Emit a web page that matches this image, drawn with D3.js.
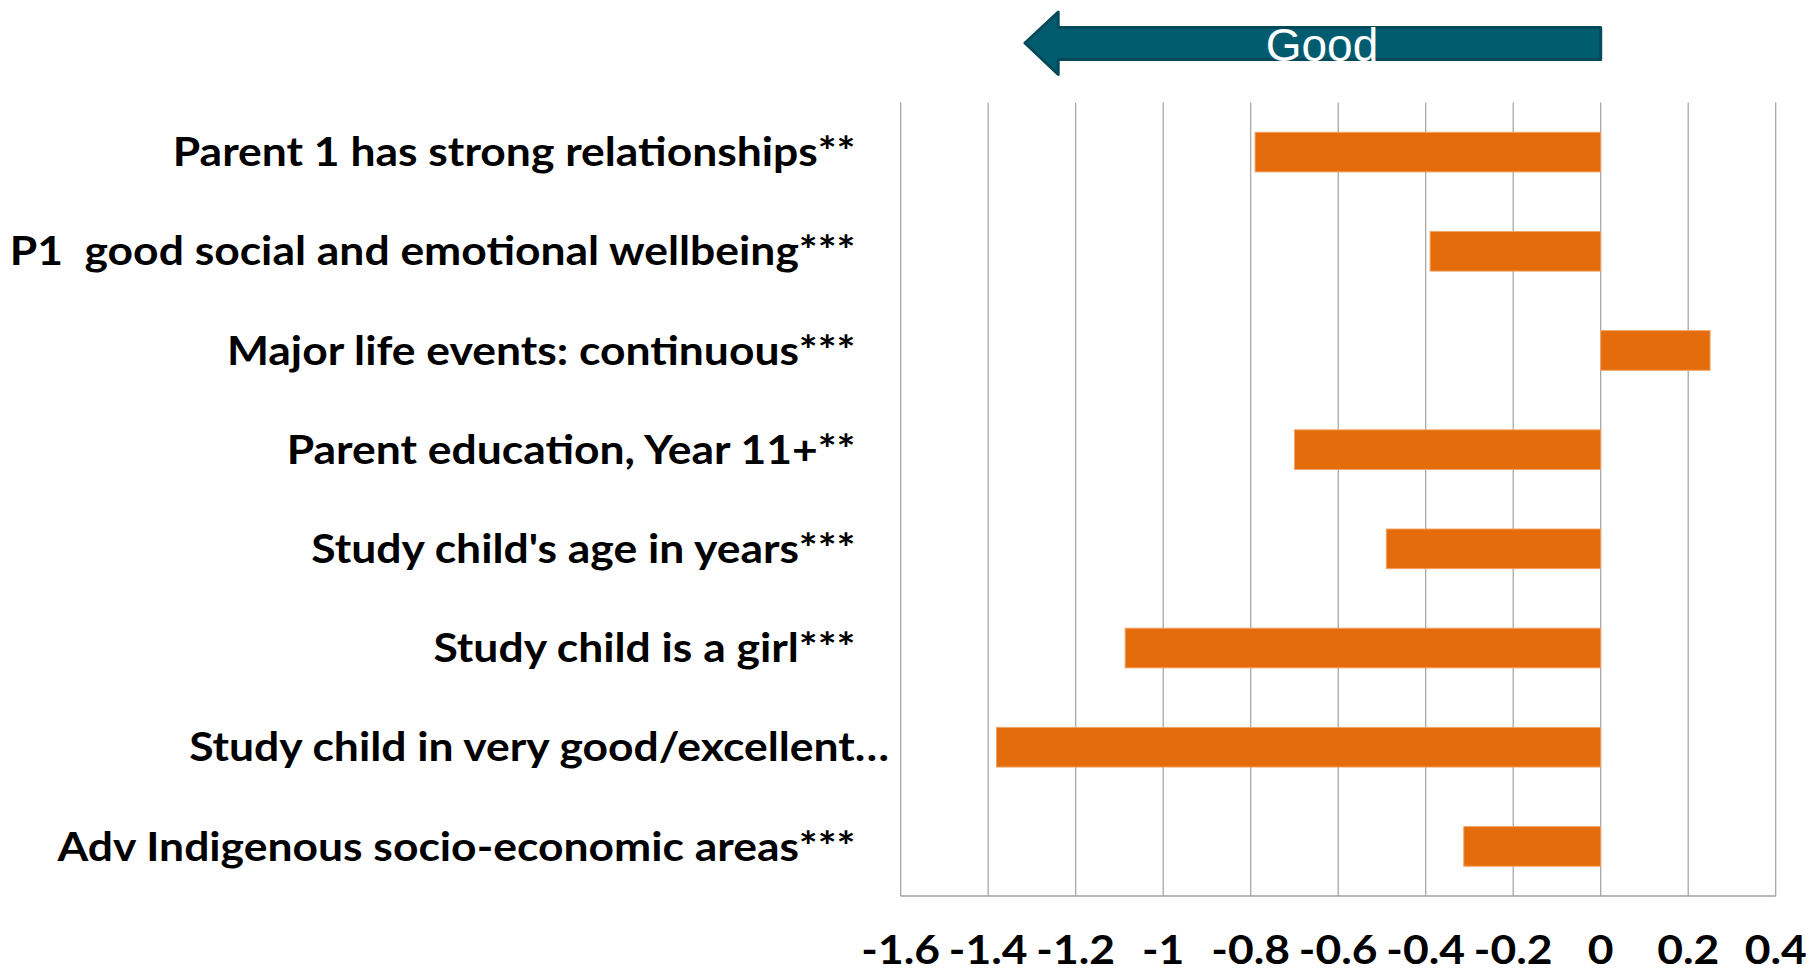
<!DOCTYPE html>
<html>
<head>
<meta charset="utf-8">
<script src="https://cdn.jsdelivr.net/npm/d3@7"></script>
<style>
  html, body { margin: 0; padding: 0; background: #ffffff; }
  svg { display: block; }
</style>
</head>
<body>
<svg id="chart" width="1810" height="973"></svg>
<script>
// Factors and their estimated coefficients (negative = toward "Good")
const categories = [
  "Parent 1 has strong relationships**",
  "P1  good social and emotional wellbeing***",
  "Major life events: continuous***",
  "Parent education, Year 11+**",
  "Study child's age in years***",
  "Study child is a girl***",
  "Study child in very good/excellent\u2026",
  "Adv Indigenous socio-economic areas***"
];
const values = [-0.79, -0.39, 0.25, -0.70, -0.49, -1.087, -1.381, -0.313];
const tickValues = [-1.6, -1.4, -1.2, -1, -0.8, -0.6, -0.4, -0.2, 0, 0.2, 0.4];
const tickLabels = ["-1.6", "-1.4", "-1.2", "-1", "-0.8", "-0.6", "-0.4", "-0.2", "0", "0.2", "0.4"];
const arrowLabel = "Good";

const svg = d3.select("#chart");
const labelFont = "Lato, 'Noto Sans', sans-serif";

const x = d3.scaleLinear().domain([-1.6, 0.4]).range([900.7, 1775.7]);
const y = d3.scaleBand().domain(categories).range([102.5, 896])
  .paddingInner(0.6).paddingOuter(0.3);

// vertical gridlines
svg.append("g").selectAll("line").data(tickValues).join("line")
  .attr("x1", d => x(d)).attr("x2", d => x(d))
  .attr("y1", y.range()[0]).attr("y2", y.range()[1])
  .attr("stroke", "#a0a0a0").attr("stroke-width", 1.2);

// baseline of the value axis
svg.append("line")
  .attr("x1", x.range()[0]).attr("x2", x.range()[1])
  .attr("y1", y.range()[1]).attr("y2", y.range()[1])
  .attr("stroke", "#a0a0a0").attr("stroke-width", 1.5);

// bars
svg.append("g").selectAll("rect").data(values).join("rect")
  .attr("x", d => x(Math.min(0, d)))
  .attr("width", d => Math.abs(x(d) - x(0)))
  .attr("y", (d, i) => y(categories[i]))
  .attr("height", y.bandwidth())
  .attr("fill", "#e46c0a")
  .attr("stroke", "#f2a56a").attr("stroke-width", 1);

// category labels
const labelRight = 855.5;
const catLabels = svg.append("g").selectAll("text").data(categories).join("text")
  .attr("x", (d, i) => i === 6 ? 889 : labelRight)
  .attr("y", d => y(d) + y.bandwidth() / 2)
  .attr("dy", "0.36em")
  .attr("text-anchor", "end")
  .attr("font-family", labelFont)
  .attr("font-weight", "bold")
  .attr("font-size", 39.5)
  .attr("fill", "#000")
  .style("white-space", "pre")
  .text(d => d);

// condense the bold labels horizontally to a uniform width factor
const refNode = catLabels.nodes()[1];
const sx = 846 / refNode.getComputedTextLength();
catLabels.attr("transform", function() {
  const ax = +this.getAttribute("x");
  return `translate(${ax},0) scale(${sx},1) translate(${-ax},0)`;
});

// value axis tick labels
svg.append("g").selectAll("text").data(tickValues).join("text")
  .attr("x", d => x(d))
  .attr("y", 964)
  .attr("text-anchor", "middle")
  .attr("font-family", labelFont)
  .attr("font-weight", "bold")
  .attr("font-size", 39.5)
  .attr("fill", "#000")
  .attr("transform", d => `translate(${x(d)},0) scale(${sx},1) translate(${-x(d)},0)`)
  .text((d, i) => tickLabels[i]);

// direction arrow pointing toward negative (good) values
const tipX = x(-1.316), endX = x(0), headBack = x(-1.24);
const midY = 43, shaftTop = 27.5, shaftBot = 59.5, headTop = 12, headBot = 74.5;
const arrowPath = d3.path();
arrowPath.moveTo(tipX, midY);
arrowPath.lineTo(headBack, headTop);
arrowPath.lineTo(headBack, shaftTop);
arrowPath.lineTo(endX, shaftTop);
arrowPath.lineTo(endX, shaftBot);
arrowPath.lineTo(headBack, shaftBot);
arrowPath.lineTo(headBack, headBot);
arrowPath.closePath();
svg.append("path")
  .attr("d", arrowPath.toString())
  .attr("fill", "#025c70")
  .attr("stroke", "#03495a")
  .attr("stroke-width", 3)
  .attr("stroke-linejoin", "round");

svg.append("text")
  .attr("x", 1322).attr("y", 61)
  .attr("text-anchor", "middle")
  .attr("font-family", "'Liberation Sans', Arial, sans-serif")
  .attr("font-size", 46)
  .attr("fill", "#ffffff")
  .text(arrowLabel);
</script>
</body>
</html>
